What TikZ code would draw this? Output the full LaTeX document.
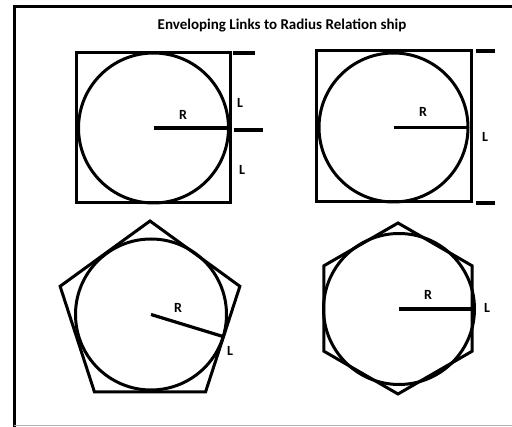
\documentclass[tikz,border=0pt]{standalone}
\usepackage{fontspec}
\setmainfont{Carlito}
\usepackage{tikz}
\usetikzlibrary{positioning,shapes.geometric}
\tikzset{
  ring/.style  ={circle, draw=black, line width=3pt, inner sep=0pt, outer sep=0pt},
  sqbox/.style ={rectangle, draw=black, line width=3pt, inner sep=0pt, outer sep=0pt},
  poly/.style  ={regular polygon, draw=black, line width=3pt, inner sep=0pt, outer sep=0pt},
  rline/.style ={line width=3.2pt, black},
  tickm/.style ={line width=3.2pt, black},
  lbl/.style   ={font=\fontsize{14}{16}\selectfont\bfseries, inner sep=1pt},
  frameln/.style={line width=3pt, black},
}
\begin{document}
\begin{tikzpicture}[x=1pt,y=-1pt]
\useasboundingbox (0,0) rectangle (512,427);
% page frame
\draw[frameln] (13,7) -- (512,7);
\draw[frameln] (14,6) -- (14,427);
\draw[gray!60, line width=1pt] (14,426) -- (512,426);
\node[font=\fontsize{15}{17}\selectfont\bfseries] (title) at (282,26) {Enveloping Links to Radius Relation ship};
% square, two links
\node[sqbox, minimum width=154pt, minimum height=150pt] (sqA) at (153,128) {};
\node[ring, minimum size=150pt] (cA) at (153.5,128) {};
\draw[rline] (cA.center) -- (cA.east);
\coordinate (tA1) at (233,53);
\coordinate (tA2) at (234,130);
\draw[tickm] (tA1) -- ++(22,0);
\draw[tickm] (tA2) -- ++(29,0);
\node[lbl] (rA) at (183,115) {R};
\node[lbl] (lA1) at (240,103) {L};
\node[lbl] (lA2) at (242,170) {L};
% square, one link
\node[sqbox, minimum width=155pt, minimum height=151pt] (sqB) at (393.5,126.5) {};
\node[ring, minimum size=149pt] (cB) at (393.5,127.5) {};
\draw[rline] (cB.center) -- (cB.east);
\coordinate (tB1) at (476,51);
\coordinate (tB2) at (476,203);
\foreach \t in {tB1,tB2} {\draw[tickm] (\t) -- ++(19,0);}
\node[lbl] (rB) at (423,112) {R};
\node[lbl] (lB) at (485,137) {L};
% pentagon
\node[poly, regular polygon sides=5, minimum size=189pt] (pC) at (150,315.5) {};
\node[ring, minimum size=151pt] (cC) at (151,314.5) {};
\draw[rline] (cC.center) -- (cC.-17);
\node[lbl] (rC) at (178,308) {R};
\node[lbl] (lC) at (230,351) {L};
% hexagon
\node[poly, regular polygon sides=6, regular polygon rotate=30, minimum size=171pt] (hD) at (398,308.5) {};
\node[ring, minimum size=151pt] (cD) at (399,309) {};
\draw[rline] (cD.center) -- (cD.east);
\node[lbl] (rD) at (428,295) {R};
\node[lbl] (lD) at (487,308) {L};
\end{tikzpicture}
\end{document}
